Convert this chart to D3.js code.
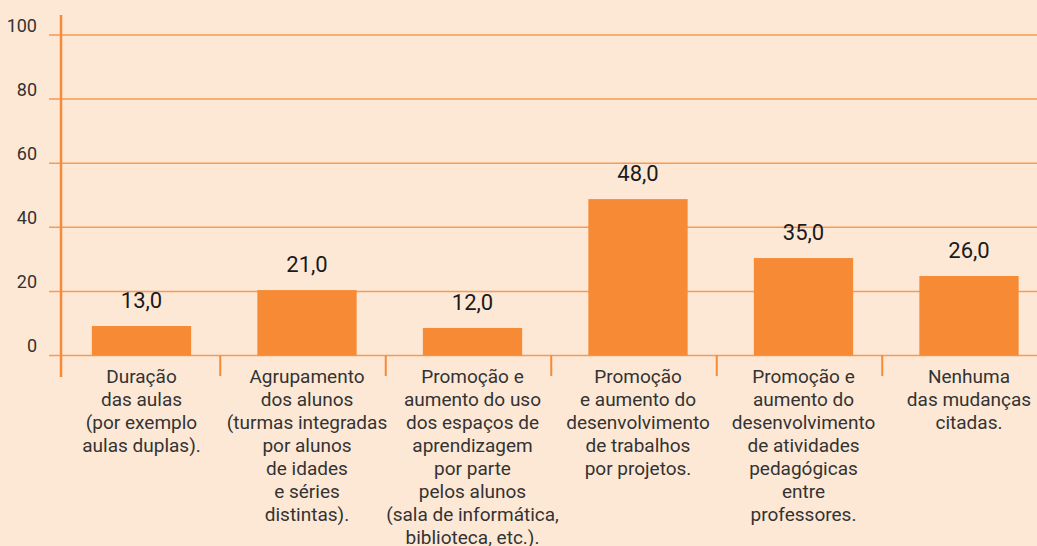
<!DOCTYPE html>
<html lang="pt">
<head>
<meta charset="UTF-8">
<title>Mudanças</title>
<script src="https://cdn.jsdelivr.net/npm/d3@7"></script>
<style>
  html, body { margin: 0; padding: 0; background: #fde8d6; }
  svg { display: block; font-family: "Roboto", sans-serif; }
</style>
</head>
<body>
<script>
    // categorias (quebras de linha como no original)
    var categories = [
        ["Duração", "das aulas", "(por exemplo", "aulas duplas)."],
        ["Agrupamento", "dos alunos", "(turmas integradas", "por alunos", "de idades", "e séries", "distintas)."],
        ["Promoção e", "aumento do uso", "dos espaços de", "aprendizagem", "por parte", "pelos alunos", "(sala de informática,", "biblioteca, etc.)."],
        ["Promoção", "e aumento do", "desenvolvimento", "de trabalhos", "por projetos."],
        ["Promoção e", "aumento do", "desenvolvimento", "de atividades", "pedagógicas", "entre", "professores."],
        ["Nenhuma", "das mudanças", "citadas."]
    ];
    // valores impressos sobre as barras
    var values = [13, 21, 12, 48, 35, 26];
    // altura das barras como aparecem no gráfico
    var barHeights = [9.2, 20.4, 8.6, 48.8, 30.4, 24.8];
    var yTicks = [0, 20, 40, 60, 80, 100];

    var width = 1037, height = 546;
    var orange = '#f68a35';
    var gridColor = '#f79a55';

    var svg = d3.select('body').append('svg')
        .attr('width', width)
        .attr('height', height);

    var y = d3.scaleLinear().domain([0, 100]).range([355.5, 35]);
    var x = d3.scaleBand()
        .domain(d3.range(categories.length))
        .range([58.75, 1051.75])
        .paddingInner(0.4)
        .paddingOuter(0.2);

    // linhas de grade
    svg.append('g').selectAll('line')
        .data(yTicks)
        .enter().append('line')
        .attr('x1', 49).attr('x2', width)
        .attr('y1', d => y(d)).attr('y2', d => y(d))
        .attr('stroke', gridColor)
        .attr('stroke-width', 1.5);

    // rótulos do eixo y
    svg.append('g').selectAll('text')
        .data(yTicks)
        .enter().append('text')
        .attr('x', 37)
        .attr('y', d => y(d) - 3.5)
        .attr('text-anchor', 'end')
        .attr('fill', '#333')
        .style('font-size', '18px')
        .text(d => d);

    // eixo vertical
    svg.append('line')
        .attr('x1', 61).attr('x2', 61)
        .attr('y1', 15).attr('y2', 377)
        .attr('stroke', orange)
        .attr('stroke-width', 2.5);

    // marcas entre categorias
    svg.append('g').selectAll('line')
        .data(d3.range(1, categories.length))
        .enter().append('line')
        .attr('x1', d => x(d) - x.step() * 0.2 - 4)
        .attr('x2', d => x(d) - x.step() * 0.2 - 4)
        .attr('y1', y(0)).attr('y2', 376)
        .attr('stroke', orange)
        .attr('stroke-width', 2);

    // barras
    svg.append('g').selectAll('rect')
        .data(barHeights)
        .enter().append('rect')
        .attr('x', (d, i) => x(i))
        .attr('y', d => y(d))
        .attr('width', x.bandwidth())
        .attr('height', d => y(0) - y(d))
        .attr('fill', orange);

    // valores
    svg.append('g').selectAll('text')
        .data(values)
        .enter().append('text')
        .attr('x', (d, i) => x(i) + x.bandwidth() / 2)
        .attr('y', (d, i) => y(barHeights[i]) - 18)
        .attr('text-anchor', 'middle')
        .attr('fill', '#1a1a1a')
        .style('font-size', '22px')
        .text(d => d3.format('.1f')(d).replace('.', ','));

    // rótulos das categorias
    var labels = svg.append('g').selectAll('text')
        .data(categories)
        .enter().append('text')
        .attr('x', (d, i) => x(i) + x.bandwidth() / 2)
        .attr('y', 382.5)
        .attr('text-anchor', 'middle')
        .attr('fill', '#333')
        .style('font-size', '19px');

    labels.selectAll('tspan')
        .data(d => d)
        .enter().append('tspan')
        .attr('x', function () { return this.parentNode.getAttribute('x'); })
        .attr('dy', (d, i) => i === 0 ? 0 : 23)
        .text(d => d);
</script>
</body>
</html>
